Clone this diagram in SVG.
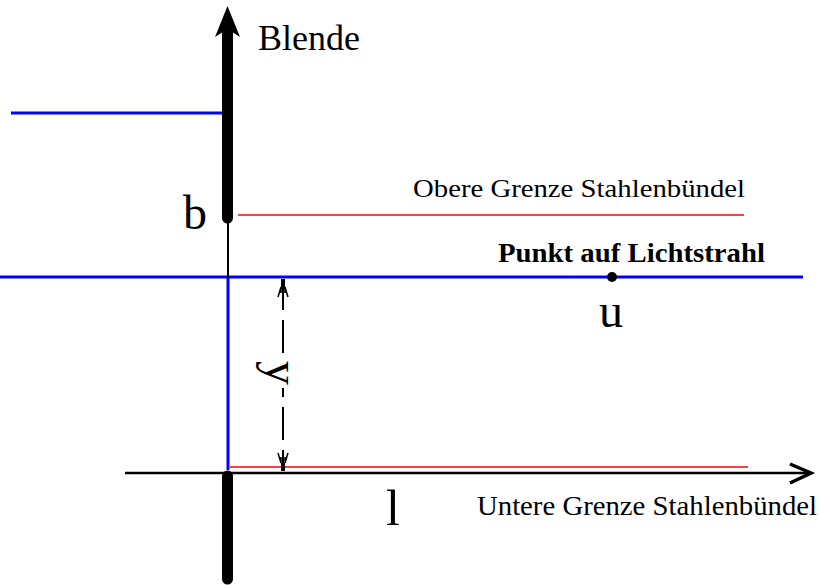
<svg xmlns="http://www.w3.org/2000/svg" width="820" height="585" viewBox="0 0 820 585">
<style>
.serif{font-family:"Liberation Serif","Times New Roman",serif;fill:#000}
.blue{stroke:#0000ff;stroke-width:3;fill:none}
.red{stroke:#ff0000;stroke-width:1.5;fill:none}
.blk{stroke:#000;fill:none}
</style>
<rect width="820" height="585" fill="#fff"/>
<g id="rays">
<line class="blue" x1="11" y1="113" x2="228" y2="113"/>
<line class="blue" x1="0" y1="277" x2="803" y2="277"/>
<line class="blue" x1="228" y1="277" x2="228" y2="470" stroke-width="2.5"/>
<line class="red" x1="238" y1="215" x2="744" y2="215"/>
<line class="red" x1="230" y1="467" x2="748" y2="467"/>
</g>
<g id="axes">
<line class="blk" x1="125" y1="473" x2="810" y2="473" stroke-width="2.5"/>
<polyline class="blk" points="790,464 811,473 790,483" stroke-width="3.5"/>
<line class="blk" x1="228" y1="222" x2="228" y2="278" stroke-width="2"/>
<line class="blk" x1="227.5" y1="22" x2="227.5" y2="218" stroke-width="11" stroke-linecap="round"/>
<polygon points="227.5,6 240,37 227.5,29 215,37" fill="#000"/>
<line class="blk" x1="227.5" y1="476" x2="227.5" y2="579" stroke-width="11" stroke-linecap="round"/>
</g>
<g id="dimension-y">
<path class="blk" stroke-width="2" d="M283,280 V310 M283,320 V353 M283,388 V397 M283,407 V440 M283,450 V471"/>
<rect x="281" y="279" width="4" height="10" fill="#000"/>
<polyline class="blk" stroke-width="1.5" points="278,297 281,287 281,293"/>
<polyline class="blk" stroke-width="1.5" points="288,297 285,287 285,293"/>
<rect x="281" y="463" width="4" height="8" fill="#000"/>
<polyline class="blk" stroke-width="1.5" points="278,453 281,463 281,457"/>
<polyline class="blk" stroke-width="1.5" points="288,453 285,463 285,457"/>
</g>
<g id="labels">
<text class="serif" x="258" y="50" font-size="36">Blende</text>
<text class="serif" x="183" y="229" font-size="48">b</text>
<text class="serif" x="413" y="197" font-size="26" textLength="332" lengthAdjust="spacingAndGlyphs">Obere Grenze Stahlenbündel</text>
<text class="serif" x="498" y="262" font-size="28" font-weight="bold" textLength="267" lengthAdjust="spacingAndGlyphs">Punkt auf Lichtstrahl</text>
<text class="serif" x="599" y="327" font-size="48">u</text>
<text class="serif" x="0" y="0" font-size="48" transform="translate(266,361) rotate(90)">y</text>
<text class="serif" x="386" y="525" font-size="50">l</text>
<text class="serif" x="477" y="515" font-size="27" textLength="340" lengthAdjust="spacingAndGlyphs">Untere Grenze Stahlenbündel</text>
</g>
<g id="point-u">
<circle cx="612" cy="277" r="5" fill="#000"/>
</g>
</svg>
